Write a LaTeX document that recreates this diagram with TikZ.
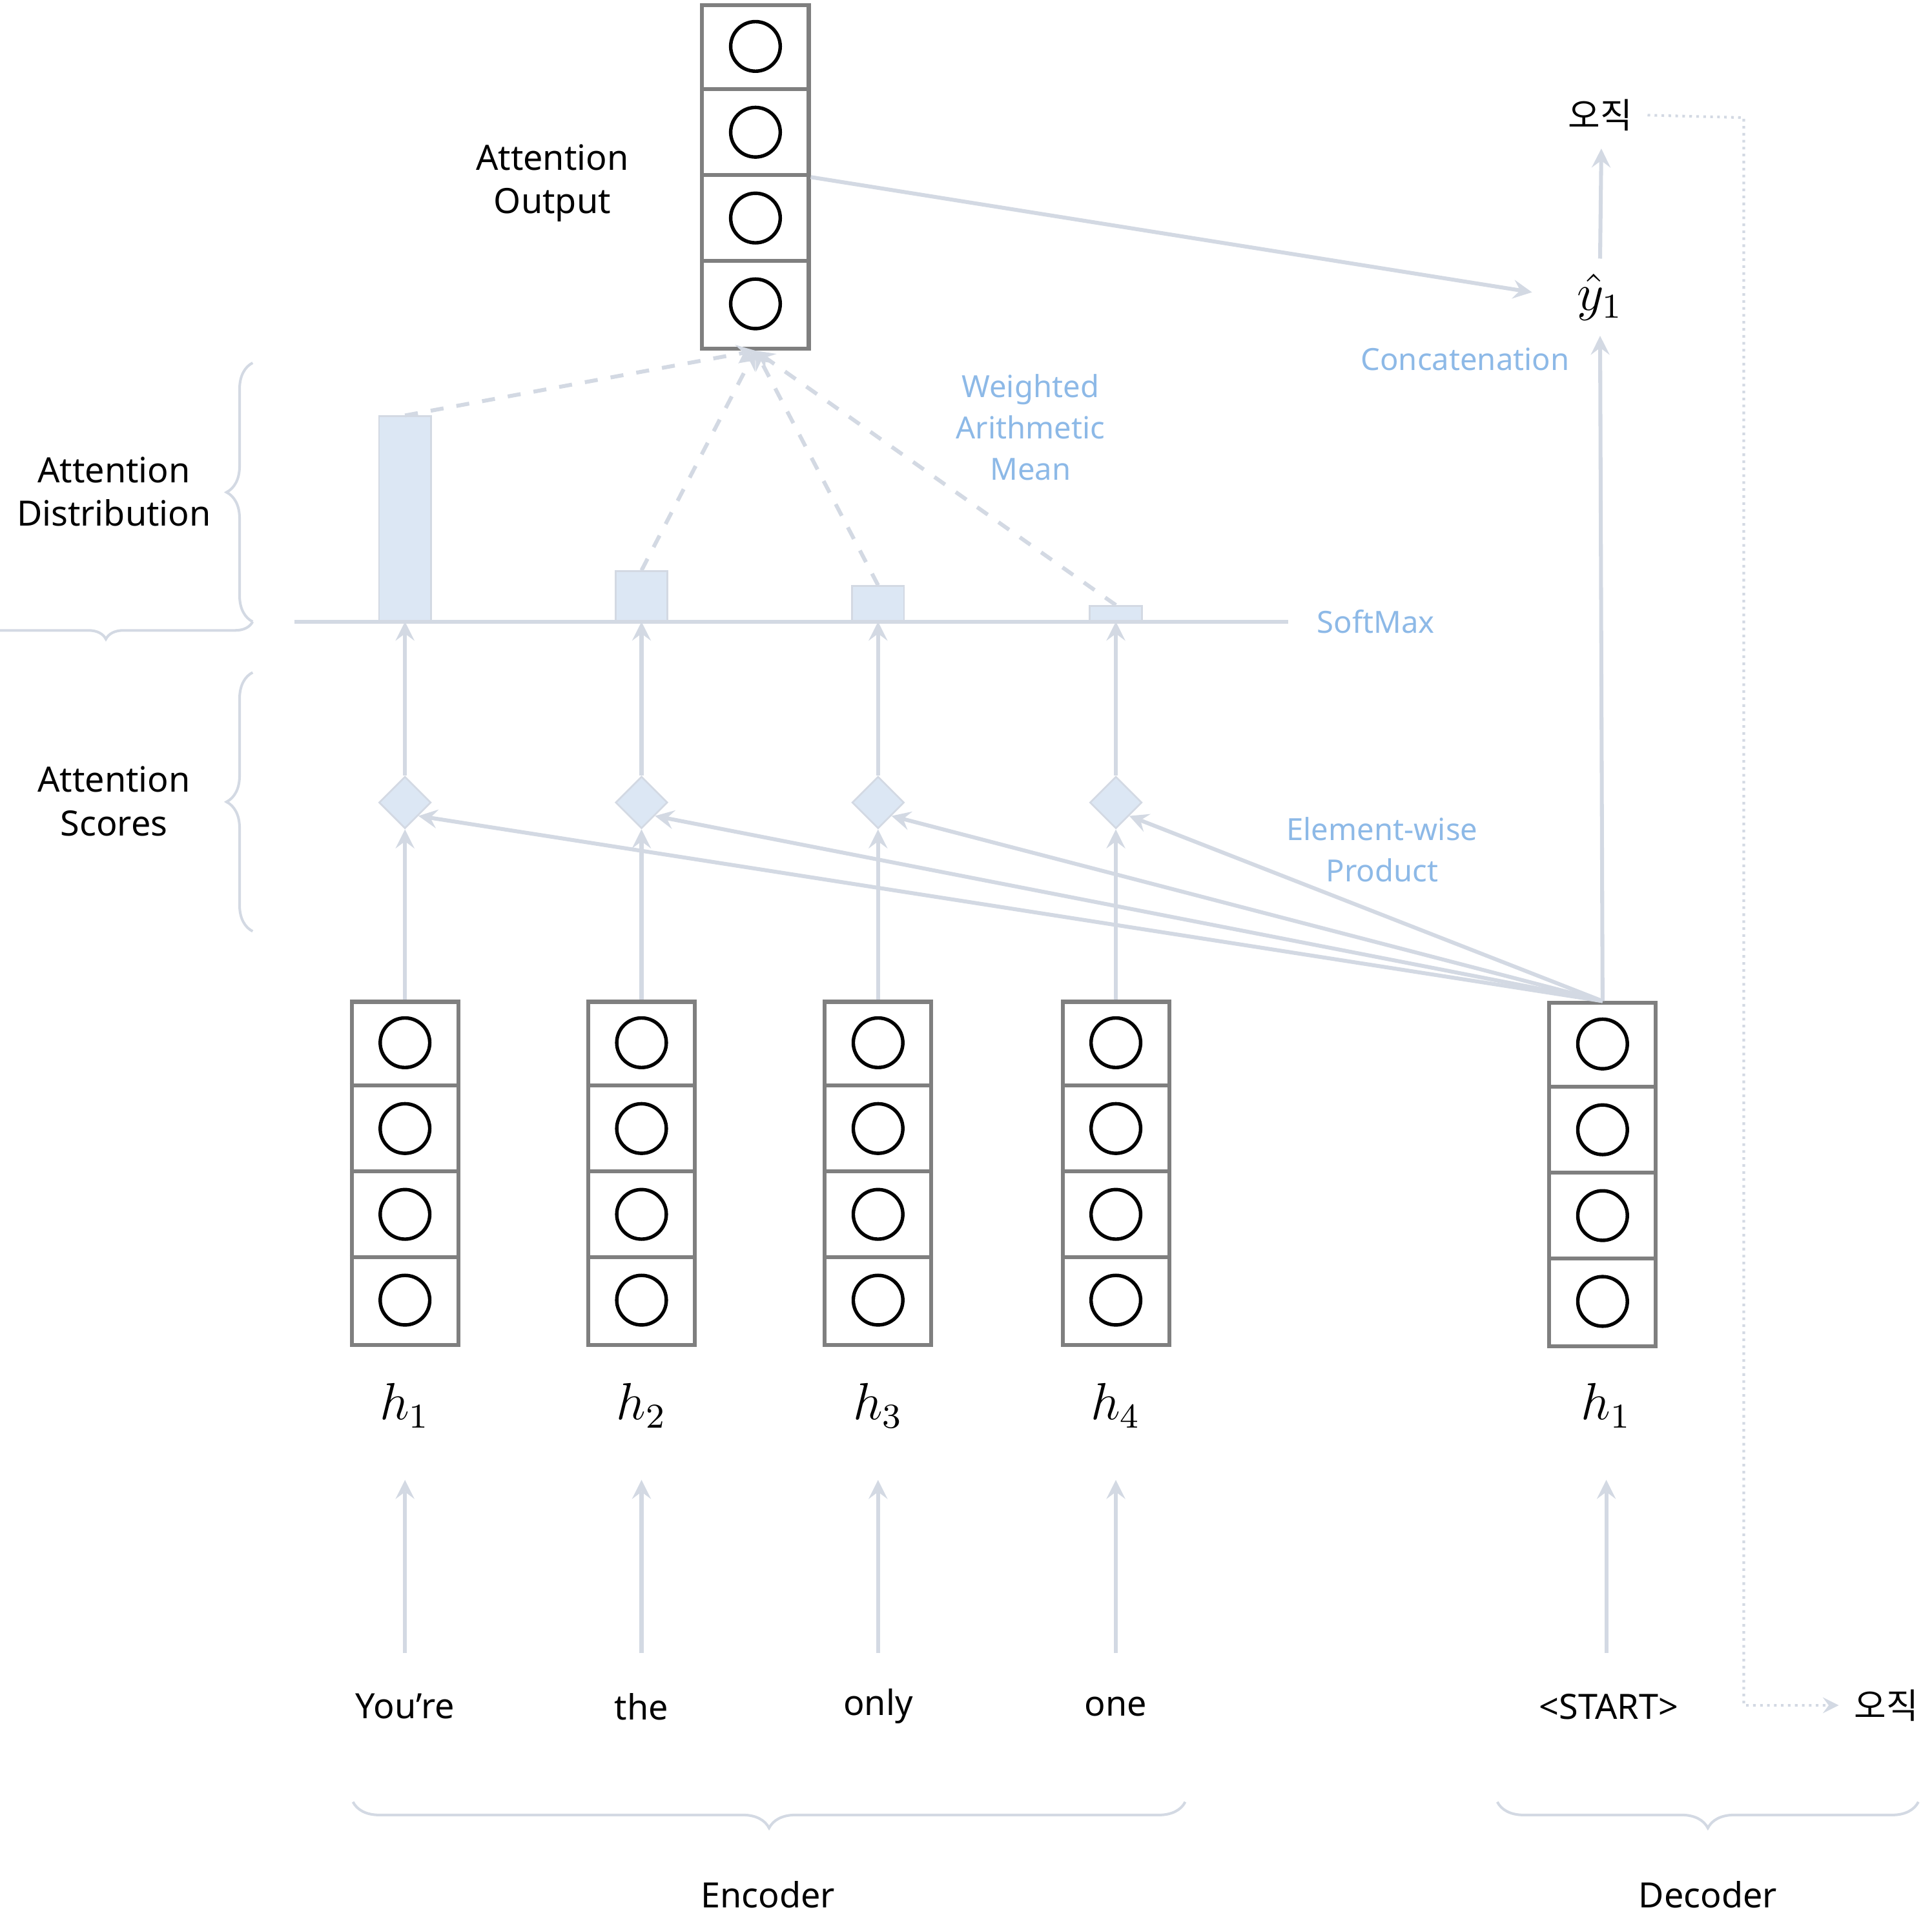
\documentclass[tikz,border=0pt]{standalone}
\usepackage{fontspec}
\setmainfont{Noto Sans}
\newfontfamily\kor{Noto Sans CJK KR}
\usetikzlibrary{arrows,positioning,decorations.pathreplacing,shapes.geometric}
\definecolor{linegray}{HTML}{D3D9E3}
\definecolor{boxgray}{HTML}{7F7F7F}
\definecolor{barblue}{HTML}{DCE7F4}
\definecolor{txtblue}{HTML}{8DB9E7}
\tikzstyle{vec}=
[
	rectangle
	,draw=boxgray
	,line width=0.9pt
	,minimum width=0.86cm
	,minimum height=2.77cm
	,inner sep=0pt
]
\tikzstyle{score}=
[
	diamond
	,draw=linegray
	,fill=barblue
	,minimum size=0.42cm
	,inner sep=0pt
]
\tikzstyle{arrow} = [linegray,line width=0.9pt,->,>=stealth]
\tikzstyle{blue} = [text=txtblue,font=\fontsize{7}{8.5}\selectfont,align=center]
\tikzstyle{lbl} = [font=\fontsize{8}{10}\selectfont,align=center]
\tikzstyle{brace} = [linegray,line width=0.6pt,decorate,decoration={brace,amplitude=4pt}]
\newcommand{\cells}[1]{%
  \foreach \k in {1,2,3} \draw[boxgray,line width=0.9pt] ([yshift=-\k*0.6925cm]#1.north west)--([yshift=-\k*0.6925cm]#1.north east);
  \foreach \k in {0,1,2,3} \draw[line width=0.8pt] ([yshift=-0.34625cm-\k*0.6925cm]#1.north) circle (0.2cm);}
\begin{document}
\begin{tikzpicture}[x=0.01cm,y=-0.01cm]
\useasboundingbox (0,0) rectangle (1560,1558);
% encoder and decoder states
\foreach \i/\x/\w in {1/327/You’re,2/518/the,3/709/only,4/901/one}{
  \node(e\i)[vec] at (\x,947.5){};
  \cells{e\i}
  \node(h\i)[lbl,font=\large] at (\x,1135){$h_\i$};
  \node(w\i)[lbl] at (\x,1378){\w};
  \node(s\i)[score] at (\x,648){};
  \coordinate(in\i) at (\x,1335);
  \draw[arrow](in\i)--(\x,1195);
  \draw[arrow](e\i)--(s\i);
  \draw[arrow](s\i)--(\x,502);
}
\node(dec)[vec] at (1294,948.5){};
\cells{dec}
\node(hd)[lbl,font=\large] at (1297,1135){$h_1$};
\node(start)[lbl] at (1299,1378){<START>};
\coordinate(ind) at (1297,1335);
\draw[arrow](ind)--(1297,1195);
% softmax bars
\draw[linegray,line width=0.9pt](238,502)--(1040,502);
\node(b1)[fill=barblue,draw=linegray,minimum width=0.42cm,minimum height=1.65cm,inner sep=0pt,anchor=south] at (327,502){};
\node(b2)[fill=barblue,draw=linegray,minimum width=0.42cm,minimum height=0.40cm,inner sep=0pt,anchor=south] at (518,502){};
\node(b3)[fill=barblue,draw=linegray,minimum width=0.42cm,minimum height=0.28cm,inner sep=0pt,anchor=south] at (709,502){};
\node(b4)[fill=barblue,draw=linegray,minimum width=0.42cm,minimum height=0.12cm,inner sep=0pt,anchor=south] at (901,502){};
% attention output
\node(out)[vec] at (610,143){};
\cells{out}
\foreach \i in {1,...,4} \draw[linegray,line width=0.9pt,dashed,->,>=stealth](b\i.north)--(out.south);
\foreach \i in {1,...,4} \draw[arrow](dec.north)--(s\i.south east);
\node(yhat)[lbl,font=\large] at (1292,240){$\hat{y}_1$};
\node(o1)[lbl,font=\kor\fontsize{8}{10}\selectfont] at (1292,93){오직};
\node(o2)[lbl,font=\kor\fontsize{8}{10}\selectfont] at (1523,1377){오직};
\draw[arrow](dec.north)--(yhat.south);
\draw[arrow](yhat.north)--(1293,120);
\draw[arrow](out.east)--(1237,236);
\coordinate(c1) at (1408,95);
\coordinate(c2) at (1408,1377);
\draw[linegray,line width=0.6pt,densely dotted,->,>=stealth](o1.east)--(c1)--(c2)--(o2.west);
% labels
\node[lbl] at (446,148){Attention\\Output};
\node[lbl] at (92,397){Attention\\Distribution};
\node[lbl] at (92,647){Attention\\Scores};
\node[blue] at (1183,290){Concatenation};
\node[blue,font=\fontsize{7}{9.5}\selectfont] at (832,345){Weighted\\Arithmetic\\Mean};
\node[blue] at (1111,502){SoftMax};
\node[blue,font=\fontsize{7}{9.5}\selectfont] at (1116,686){Element-wise\\Product};
\node[lbl] at (620,1530){Encoder};
\node[lbl] at (1379,1530){Decoder};
% braces
\draw[brace](204,502)--(190,502)--(190,293)--(204,293);
\draw[brace,decoration={brace,mirror,amplitude=6pt}](204,293)--(204,502);
\draw[brace,decoration={brace,mirror,amplitude=6pt}](204,543)--(204,752);
\draw[brace,decoration={brace,mirror,amplitude=6pt}](285,1455)--(957,1455);
\draw[brace,decoration={brace,mirror,amplitude=6pt}](1209,1455)--(1549,1455);
\end{tikzpicture}
\end{document}
